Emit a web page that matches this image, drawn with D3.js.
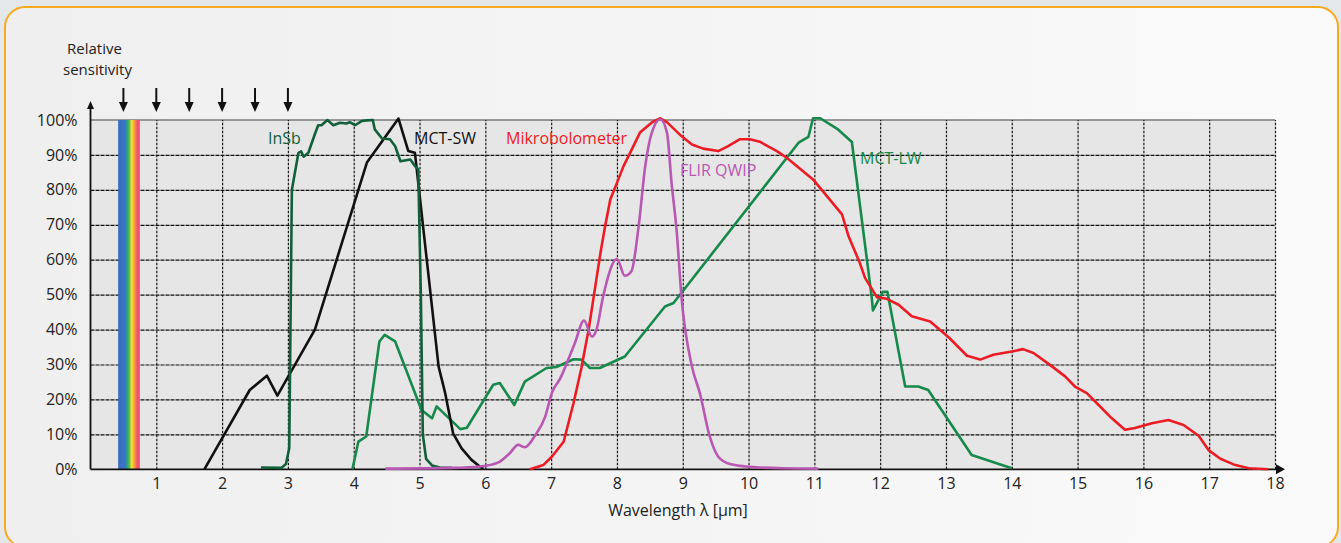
<!DOCTYPE html>
<html><head><meta charset="utf-8">
<script src="https://cdn.jsdelivr.net/npm/d3@7/dist/d3.min.js"></script>
<style>
html,body{margin:0;padding:0;background:#e5e8eb;}
svg{display:block;font-family:"Open Sans","Noto Sans",sans-serif;}
</style></head>
<body>
<svg id="c" width="1341" height="543"></svg>
<script>
// ---- data ----
const xTicks = [1,2,3,4,5,6,7,8,9,10,11,12,13,14,15,16,17,18];
const yTicks = [0,10,20,30,40,50,60,70,80,90,100];
const arrowMarks = [0.5,1,1.5,2,2.5,3];
const visibleBand = [0.42,0.75];
const insb = [[2.59,0.5],[2.9,0.4],[2.97,1.5],[3.02,6],[3.06,80],[3.16,90.6],[3.2,91],[3.24,89.5],[3.31,90.6],[3.41,96],[3.46,98.5],[3.51,98.5],[3.6,100],[3.69,98.5],[3.79,99.2],[3.89,99],[3.94,99.4],[4.02,98.5],[4.12,99.7],[4.2,99.9],[4.29,100],[4.32,97.3],[4.43,94.7],[4.55,94.5],[4.63,92.5],[4.71,88.2],[4.86,88.7],[4.93,86.8],[4.98,85.9],[5.02,50],[5.05,10],[5.1,3],[5.19,1.1],[5.31,0.5],[5.49,0.4]];
const mctSw = [[1.73,0],[2.42,22.7],[2.68,26.8],[2.84,21.1],[3.41,40],[4.2,87.8],[4.68,100.4],[4.83,91.1],[4.93,90.6],[5.29,29.4],[5.39,21.8],[5.51,10.3],[5.64,6],[5.79,2.7],[5.92,0.7],[5.97,0.2]];
const mikro = [[6.68,0],[6.88,1.2],[7.01,3.6],[7.19,7.9],[7.34,18.9],[7.46,29],[7.57,40],[7.66,51],[7.75,62],[7.82,69.6],[7.9,77.3],[8.0,82],[8.1,86.8],[8.2,90.6],[8.35,96.4],[8.53,99.3],[8.66,100.5],[8.76,99.4],[8.98,95.4],[9.14,93],[9.31,91.8],[9.54,91.1],[9.69,92.5],[9.87,94.5],[10.02,94.5],[10.17,93.8],[10.43,91.1],[10.58,89.2],[10.98,83],[11.31,75.5],[11.42,73],[11.52,66.7],[11.69,59.1],[11.77,54.8],[11.95,49.3],[12.1,48.8],[12.28,47.1],[12.48,43.8],[12.76,42.3],[13.04,37.8],[13.32,32.5],[13.52,31.4],[13.72,32.8],[14.0,33.7],[14.17,34.4],[14.33,33.3],[14.58,29.9],[14.81,26.6],[14.96,23.7],[15.14,21.8],[15.32,18.4],[15.52,14.6],[15.72,11.3],[15.87,11.8],[16.13,13.2],[16.38,14.1],[16.61,12.7],[16.84,9.6],[16.99,5.5],[17.17,3],[17.37,1.4],[17.6,0.3],[17.9,0]];
const qwip = [[4.48,0.2],[5.51,0.4],[5.92,0.8],[6.2,2],[6.37,4.6],[6.5,7],[6.6,6.3],[6.76,9.8],[6.91,15.1],[7.01,21.8],[7.14,26.1],[7.26,31.4],[7.36,36.1],[7.5,42.6],[7.62,38],[7.69,40],[7.79,49.5],[8.0,60.2],[8.12,55.4],[8.22,56.7],[8.33,69.6],[8.43,86.8],[8.53,96.4],[8.66,100.2],[8.76,96.4],[8.83,82],[8.91,67.7],[8.98,49.5],[9.14,29.4],[9.26,21.8],[9.41,9.4],[9.54,3.6],[9.72,1.5],[10.02,0.7],[10.53,0.3],[11.06,0.2]];
const mctLw = [[3.98,0],[4.07,7.9],[4.19,9.4],[4.39,36.6],[4.47,38.5],[4.63,36.6],[5.03,17],[5.19,14.6],[5.26,18],[5.62,11.5],[5.72,11.9],[6.12,24.2],[6.22,24.7],[6.44,18.4],[6.6,25.1],[6.93,29],[7.08,29.3],[7.34,31.5],[7.46,31.4],[7.59,29],[7.74,29],[8.12,32.3],[8.73,46.6],[8.86,47.6],[10.76,93.5],[10.91,95.2],[10.98,100.5],[11.09,100.5],[11.36,97.3],[11.57,93.7],[11.87,49.5],[11.89,45.5],[12.04,50.8],[12.11,50.8],[12.38,23.7],[12.58,23.7],[12.73,22.7],[13.39,4.1],[14.0,0.3]];
const seriesNames = ["InSb","MCT-SW","Mikrobolometer","FLIR QWIP","MCT-LW"];
const seriesColors = ["#11603a","#111111","#ec1c24","#b858b2","#17894a"];

// ---- drawing ----
const svg = d3.select("#c");
const defs = svg.append("defs");
const bg = defs.append("linearGradient").attr("id","cardg").attr("x1","0").attr("x2","1");
bg.append("stop").attr("offset","0").attr("stop-color","#efefef");
bg.append("stop").attr("offset","1").attr("stop-color","#fafafa");
const rb = defs.append("linearGradient").attr("id","rainbow").attr("x1","0").attr("x2","1");
[["0","#3a6dc2"],["0.3","#3a73bf"],["0.42","#1fa58c"],["0.52","#63bb45"],["0.62","#f2e52c"],["0.74","#f7a53b"],["0.86","#f15b6b"],["1","#ee4a7d"]]
  .forEach(s=>rb.append("stop").attr("offset",s[0]).attr("stop-color",s[1]));

svg.append("rect").attr("x",5).attr("y",7).attr("width",1333).attr("height",540)
  .attr("rx",20).attr("fill","url(#cardg)").attr("stroke","#f8a91e").attr("stroke-width",2);

const x = d3.scaleLinear().domain([0,18]).range([90.5,1275]);
const y = d3.scaleLinear().domain([0,100]).range([469.3,120]);

// plot background
svg.append("rect").attr("x",x(0)).attr("y",y(100)).attr("width",x(18)-x(0)).attr("height",y(0)-y(100)).attr("fill","#e6e6e6");

// grid: horizontal
const gy = svg.append("g").attr("transform",`translate(${x(0)},0)`)
  .call(d3.axisLeft(y).tickValues(yTicks.filter(v=>v>0&&v<100)).tickSize(-(x(18)-x(0))).tickFormat(""));
gy.select(".domain").remove();
gy.selectAll("line").attr("stroke","#111").attr("stroke-width",1.2).attr("stroke-dasharray","4,1");
// top border
svg.append("line").attr("x1",x(0)).attr("x2",x(18)).attr("y1",y(100)).attr("y2",y(100)).attr("stroke","#7a7a7a").attr("stroke-width",1.5);
// grid: vertical
const gx = svg.append("g").attr("transform",`translate(0,${y(0)})`)
  .call(d3.axisBottom(x).tickValues(xTicks).tickSize(-(y(0)-y(100))).tickFormat(""));
gx.select(".domain").remove();
gx.selectAll("line").attr("stroke","#1a1a1a").attr("stroke-width",1.2).attr("stroke-dasharray","2.5,1.5");

// rainbow band
svg.append("rect").attr("x",x(visibleBand[0])).attr("y",y(100)).attr("width",x(visibleBand[1])-x(visibleBand[0]))
  .attr("height",y(0)-y(100)).attr("fill","url(#rainbow)");

// tick labels
const yl = svg.append("g").attr("transform",`translate(${x(0)},0)`)
  .call(d3.axisLeft(y).tickValues(yTicks).tickSize(0).tickPadding(13).tickFormat(d=>d+"%"));
yl.select(".domain").remove();
yl.selectAll("text").attr("font-size",16).attr("fill","#222").attr("font-family","'Open Sans',sans-serif");
const xl = svg.append("g").attr("transform",`translate(0,${y(0)})`)
  .call(d3.axisBottom(x).tickValues(xTicks).tickSize(0).tickPadding(8).tickFormat(d=>d));
xl.select(".domain").remove();
xl.selectAll("text").attr("font-size",16).attr("fill","#222").attr("font-family","'Open Sans',sans-serif");

// axes lines with arrows
svg.append("line").attr("x1",x(0)).attr("x2",1278).attr("y1",y(0)).attr("y2",y(0)).attr("stroke","#111").attr("stroke-width",1.8);
svg.append("path").attr("d",`M1276,${y(0)-5}L1285,${y(0)}L1276,${y(0)+5}Z`).attr("fill","#111");
svg.append("line").attr("x1",x(0)).attr("x2",x(0)).attr("y1",y(0)).attr("y2",108).attr("stroke","#111").attr("stroke-width",1.8);
svg.append("path").attr("d",`M${x(0)-3.5},109L${x(0)},101L${x(0)+3.5},109Z`).attr("fill","#111");

// arrows at top
arrowMarks.forEach(v=>{
  const cx = x(v);
  svg.append("line").attr("x1",cx).attr("x2",cx).attr("y1",88).attr("y2",104).attr("stroke","#111").attr("stroke-width",2);
  svg.append("path").attr("d",`M${cx-4.5},102L${cx},112L${cx+4.5},102Z`).attr("fill","#111");
});

// curves
const lineLin = d3.line().x(d=>x(d[0])).y(d=>y(d[1]));
const lineSmooth = d3.line().x(d=>x(d[0])).y(d=>y(d[1])).curve(d3.curveMonotoneX);
const allSeries = [insb, mctSw, mikro, qwip, mctLw];
const order = [4,1,0,2,3];
order.forEach(i=>{
  svg.append("path").datum(allSeries[i])
    .attr("d", i===3 ? lineSmooth : lineLin)
    .attr("fill","none").attr("stroke",seriesColors[i]).attr("stroke-width",2.6).attr("stroke-linejoin","round");
});

// series labels
const labelPos = [[268,143.5],[414,143.5],[506,143.5],[680,176],[860,163.5]];
seriesNames.forEach((n,i)=>{
  svg.append("text").attr("x",labelPos[i][0]).attr("y",labelPos[i][1]).text(n)
    .attr("font-size",16).attr("fill",seriesColors[i]);
});

// axis titles
svg.append("text").attr("x",94.5).attr("y",54).attr("text-anchor","middle").attr("font-size",15).attr("fill","#222").text("Relative");
svg.append("text").attr("x",97.5).attr("y",74.5).attr("text-anchor","middle").attr("font-size",15).attr("fill","#222").text("sensitivity");
svg.append("text").attr("x",678).attr("y",516).attr("text-anchor","middle").attr("font-size",16).attr("fill","#222").text("Wavelength λ [µm]");
</script>
</body></html>
